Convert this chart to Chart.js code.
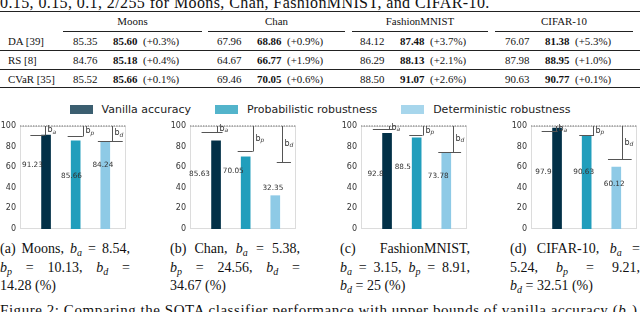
<!DOCTYPE html>
<html><head><meta charset="utf-8">
<script src="https://cdn.jsdelivr.net/npm/chart.js@4.4.1/dist/chart.umd.min.js"></script>
<style>
html,body{margin:0;padding:0;background:#fff;}
body{width:640px;height:312px;overflow:hidden;position:relative;font-family:"Liberation Serif","Times New Roman",serif;color:#111;}
.abs{position:absolute;white-space:nowrap;}
.t{font-size:10.9px;line-height:14px;}
.rule{position:absolute;background:#222;}
.cap{position:absolute;width:130px;font-size:14px;line-height:18.5px;top:240px;}
.cap div{white-space:nowrap;}
.cap .j{text-align:justify;text-align-last:justify;white-space:normal;}
i sub, sub{font-size:10px;line-height:0;vertical-align:-3px;font-style:italic;}
#legend{position:absolute;left:0;top:102px;width:640px;height:14px;display:flex;justify-content:center;align-items:center;font-family:"DejaVu Sans",sans-serif;font-size:11px;color:#222;}
#legend .it{display:flex;align-items:center;margin:0 12px;}
#legend .sw{width:23px;height:9px;margin-right:9px;background-image:radial-gradient(rgba(255,255,255,0.35) 0.6px,transparent 0.9px);background-size:2px 2px;}
</style></head><body>
<script>
// ---------- data ----------
const tableDatasets=['Moons','Chan','FashionMNIST','CIFAR-10'];
const tableMethods=['DA [39]','RS [8]','CVaR [35]'];
const baseAcc=[[85.35,67.96,84.12,76.07],[84.76,64.67,86.29,87.98],[85.52,69.46,88.50,90.63]];
const oursAcc=[[85.60,68.86,87.48,81.38],[85.18,66.77,88.13,88.95],[85.66,70.05,91.07,90.77]];
const gainPct=[[0.3,0.9,3.7,5.3],[0.4,1.9,2.1,1.0],[0.1,0.6,2.6,0.1]];

const seriesNames=['Vanilla accuracy','Probabilistic robustness','Deterministic robustness'];
const chartNames=['Moons','Chan','FashionMNIST','CIFAR-10'];
const vanilla=[91.23,85.63,92.8,97.9];
const probabilistic=[85.66,70.05,88.5,90.63];
const deterministic=[84.24,32.35,73.78,60.12];
const boundA=[8.54,5.38,3.15,5.24];
const boundP=[10.13,24.56,8.91,9.21];
const boundD=[14.28,34.67,25,32.51];
const yTicks=[0,20,40,60,80,100];

// ---------- layout / style ----------
const seriesColors=['#023047','#219ebc','#8ecae6'];
const boundSubs=['a','p','d'];
const plotLefts=[20,190,361,531];
const valLabelPos=[
 [[-0.46,62],[0.86,51],[1.92,62]],
 [[-0.56,53],[0.58,56],[1.92,40]],
 [[-0.39,53],[0.53,60],[1.73,51]],
 [[-0.46,55],[0.9,55],[1.93,44]]
];
const annotLayout=[
 {line:[-0.05,1.24,2.22],cap:[[-0.53,-0.05],[0.73,1.24],[1.75,2.59]]},
 {line:[0.02,1.24,2.22],cap:[[-0.49,0.22],[0.73,1.24],[2.05,2.53]]},
 {line:[0.05,1.2,2.22],cap:[[-0.48,0.18],[0.75,1.2],[1.73,2.5]]},
 {line:[-0.05,1.22,2.18],cap:[[-0.52,0.02],[0.75,1.25],[1.72,2.52]]}
];

function el(html,css,cls){const d=document.createElement('div');d.className=cls||'abs';d.style.cssText=css;d.innerHTML=html;document.body.appendChild(d);return d;}

// top text line
el('0.15, 0.15, 0.1, 2/255 for Moons, Chan, FashionMNIST, and CIFAR-10.','left:0;top:-5px;font-size:16px;line-height:16px;letter-spacing:0.4px;');

// ---------- table ----------
function rule(x,y,w,h){el('',`left:${x}px;top:${y}px;width:${w}px;height:${h}px;`,'rule');}
rule(0,11,640,1.3);
rule(0,86.5,640,1.3);
rule(0,49.5,640,0.6);
rule(0,68.5,640,0.6);
const cmid=[[63,202],[208,345],[352,488],[495,633]];
const colBase=[73,217,360,505];
const headerY=21, rowY=[40.5,59.5,78.5];
cmid.forEach((c,k)=>{
  rule(c[0],30.5,c[1]-c[0],0.7);
  el(tableDatasets[k],`left:${c[0]}px;width:${c[1]-c[0]}px;text-align:center;top:${headerY-7}px;`,'abs t');
});
tableMethods.forEach((m,r)=>{
  el(m,`left:8px;top:${rowY[r]-7}px;`,'abs t');
  for(let k=0;k<4;k++){
    const x=colBase[k];
    el(baseAcc[r][k].toFixed(2),`left:${x}px;top:${rowY[r]-7}px;`,'abs t');
    el('<b>'+oursAcc[r][k].toFixed(2)+'</b>',`left:${x+40}px;top:${rowY[r]-7}px;`,'abs t');
    el('(+'+gainPct[r][k].toFixed(1)+'%)',`left:${x+70}px;top:${rowY[r]-7}px;`,'abs t');
  }
});

// ---------- legend ----------
const lg=document.createElement('div');lg.id='legend';
seriesNames.forEach((n,i)=>{lg.innerHTML+=`<div class="it"><span class="sw" style="background-color:${seriesColors[i]}"></span><span>${n}</span></div>`;});
document.body.appendChild(lg);

// ---------- sub-captions ----------
const B=s=>`<i>b</i><sub>${s}</sub>`;
const capLefts=[0,170,340,510];
const capLines=[
 [`(a) Moons, ${B('a')} = ${boundA[0]},`,`${B('p')} = ${boundP[0]}, ${B('d')} =`,`${boundD[0]} (%)`],
 [`(b) Chan, ${B('a')} = ${boundA[1]},`,`${B('p')} = ${boundP[1]}, ${B('d')} =`,`${boundD[1]} (%)`],
 [`(c) FashionMNIST,`,`${B('a')} = ${boundA[2]}, ${B('p')} = ${boundP[2]},`,`${B('d')} = ${boundD[2]} (%)`],
 [`(d) CIFAR-10, ${B('a')} =`,`${boundA[3]}, ${B('p')} = ${boundP[3]},`,`${B('d')} = ${boundD[3]} (%)`]
];
capLines.forEach((lines,k)=>{
  el(lines.map((l,i)=>`<div class="${i<2?'j':''}">${l}</div>`).join(''),`left:${capLefts[k]}px;`,'cap');
});
el(`Figure 2: Comparing the SOTA classifier performance with upper bounds of vanilla accuracy (${B('a')}),`,'left:0;top:301px;font-size:15px;line-height:18px;letter-spacing:0.55px;');

// ---------- charts ----------
function makeChart(k){
  const cv=document.createElement('canvas');
  cv.width=128;cv.height=120;
  cv.style.cssText=`position:absolute;left:${plotLefts[k]-20}px;top:116px;width:128px;height:120px;`;
  document.body.appendChild(cv);
  const vals=[vanilla[k],probabilistic[k],deterministic[k]];
  const bounds=[boundA[k],boundP[k],boundD[k]];
  const lay=annotLayout[k];
  new Chart(cv,{
    type:'bar',
    data:{datasets:[{label:chartNames[k],data:vals.map((v,i)=>({x:i,y:v})),backgroundColor:seriesColors,borderWidth:0,barThickness:9}]},
    options:{
      responsive:false,animation:false,devicePixelRatio:1,
      layout:{padding:{top:10,right:2,bottom:7,left:0}},
      plugins:{legend:{display:false},tooltip:{enabled:false}},
      scales:{
        x:{type:'linear',min:-0.88,max:2.7,display:false,offset:false},
        y:{min:0,max:100,
           afterBuildTicks:s=>{s.ticks=yTicks.map(v=>({value:v}));},
           afterFit:s=>{s.width=20;s.paddingTop=0;s.paddingBottom=0;},
           grid:{display:false,drawTicks:false},border:{display:false},
           ticks:{padding:4,color:'#333',font:{family:'DejaVu Sans',size:8}}}
      }
    },
    plugins:[{
      id:'deco',
      beforeDatasetsDraw(c){
        const a=c.chartArea,ctx=c.ctx;
        ctx.save();ctx.strokeStyle='#dcdcdc';ctx.lineWidth=1;
        ctx.strokeRect(a.left+0.5,a.top+0.5,a.right-a.left-1,a.bottom-a.top-1);
        ctx.restore();
      },
      afterDatasetsDraw(c){
        const ctx=c.ctx,xs=c.scales.x,ys=c.scales.y,a=c.chartArea;
        ctx.save();
        ctx.strokeStyle='#9a9a9a';ctx.lineWidth=1.6;ctx.setLineDash([1.4,1.2]);
        const y100=ys.getPixelForValue(100);
        ctx.beginPath();ctx.moveTo(a.left,y100);ctx.lineTo(a.right,y100);ctx.stroke();
        ctx.setLineDash([]);
        for(let i=0;i<3;i++){
          const lx=Math.round(xs.getPixelForValue(lay.line[i]))+0.5;
          const yb=Math.round(ys.getPixelForValue(100-bounds[i]))+0.5;
          ctx.strokeStyle='#555';ctx.lineWidth=1;
          ctx.beginPath();ctx.moveTo(lx,y100);ctx.lineTo(lx,yb);ctx.stroke();
          ctx.beginPath();ctx.moveTo(xs.getPixelForValue(lay.cap[i][0]),yb);ctx.lineTo(xs.getPixelForValue(lay.cap[i][1]),yb);ctx.stroke();
          const ly=ys.getPixelForValue(100-bounds[i]/2);
          ctx.fillStyle='#333';ctx.textBaseline='middle';ctx.textAlign='left';
          ctx.font='8px "DejaVu Sans"';
          ctx.fillText('b',lx+2,ly);
          const bw=ctx.measureText('b').width;
          ctx.font='italic 6px "DejaVu Sans"';
          ctx.fillText(boundSubs[i],lx+2+bw,ly+2);
        }
        ctx.font='7.3px "DejaVu Sans"';ctx.fillStyle='#333';ctx.textAlign='center';ctx.textBaseline='middle';
        for(let i=0;i<3;i++){
          const p=valLabelPos[k][i];
          ctx.fillText(String(vals[i]),xs.getPixelForValue(p[0]),ys.getPixelForValue(p[1]));
        }
        ctx.restore();
      }
    }]
  });
}
for(let k=0;k<4;k++)makeChart(k);
</script>
</body></html>
